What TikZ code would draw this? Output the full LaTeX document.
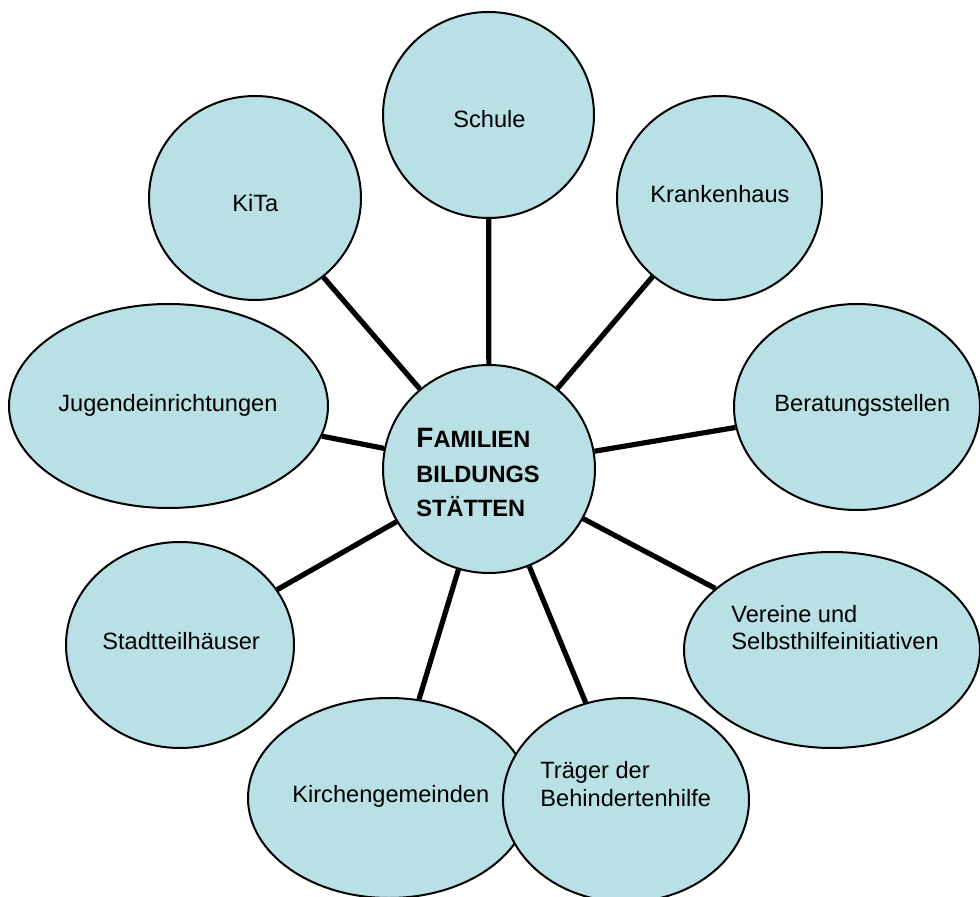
\documentclass[tikz,border=0pt]{standalone}
\usepackage{fontspec}
\setmainfont{Liberation Sans}
\usetikzlibrary{shapes.geometric}
\definecolor{bubble}{RGB}{185,224,228}
\tikzset{
    blase/.style={ellipse, draw, fill=bubble, line width=1pt, inner sep=0pt},
    txt/.style={anchor=base west, inner sep=0pt, align=left, font=\fontsize{11.8}{13.75}\selectfont},
    speiche/.style={line width=2.6pt}
}
\begin{document}
\begin{tikzpicture}[x=0.5pt, y=-0.5pt]
    \useasboundingbox (0, 0) rectangle (980, 897);
    % Blasen rundherum (Name/x/y/Halbachsen)
    \foreach \name/\x/\y/\rx/\ry in {schule/488.5/115/105.5/103, krankenhaus/719.5/198/102.5/102,
        beratung/857/407/123/103, vereine/832/650/148/98, kirchen/389/798/141/100,
        traeger/626/800/123/102, stadtteil/180/645/114/103, jugend/168.5/406/159.5/102,
        kita/255/198/106/102} {
        \node[blase, minimum width=\rx pt, minimum height=\ry pt] (\name) at (\x, \y) {};
    }
    \node[blase, minimum width=106pt, minimum height=104pt] (mitte) at (489, 469) {};
    \foreach \name in {schule, krankenhaus, beratung, vereine, traeger, kirchen, stadtteil, jugend, kita} {
        \draw[speiche] (mitte) -- (\name);
    }
    % Beschriftungen (base = letzte Zeile)
    \node[txt] (schule-t) at (453, 128) {Schule};
    \node[txt] (krankenhaus-t) at (650, 203) {Krankenhaus};
    \node[txt] (beratung-t) at (774, 412) {Beratungsstellen};
    \node[txt] (vereine-t) at (731, 650) {Vereine und\\Selbsthilfeinitiativen};
    \node[txt] (traeger-t) at (540, 806) {Träger der\\Behindertenhilfe};
    \node[txt] (kirchen-t) at (292, 802) {Kirchengemeinden};
    \node[txt] (stadtteil-t) at (102, 650) {Stadtteilhäuser};
    \node[txt] (jugend-t) at (58, 412) {Jugendeinrichtungen};
    \node[txt] (kita-t) at (232, 212) {KiTa};
    \node[txt, font=\bfseries\fontsize{11.8}{17.25}\selectfont] (mitte-t) at (416, 517)
        {{\fontsize{14}{17.25}\selectfont F}AMILIEN\\BILDUNGS\\STÄTTEN};
\end{tikzpicture}
\end{document}
